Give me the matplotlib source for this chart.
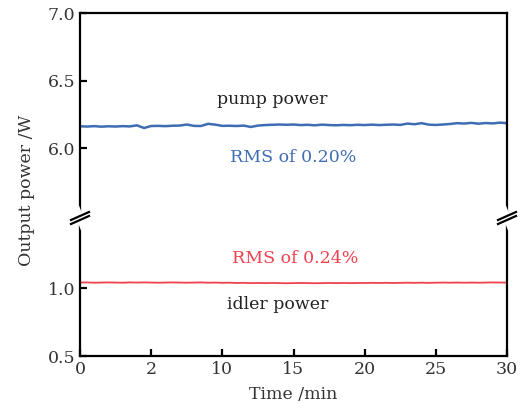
import numpy as np
import matplotlib
matplotlib.use("Agg")
import matplotlib.pyplot as plt
from matplotlib.lines import Line2D

# ─── Data ──────────────────────────────────────────────────────────────────────
# pump / idler output power (W), sampled every 0.5 min from 0 to 30 min
pump_power = [6.163, 6.161, 6.164, 6.160, 6.163, 6.161, 6.164, 6.162, 6.170, 6.150,
              6.165, 6.166, 6.164, 6.167, 6.168, 6.176, 6.166, 6.165, 6.181, 6.175,
              6.166, 6.167, 6.165, 6.168, 6.158, 6.168, 6.172, 6.174, 6.176, 6.174,
              6.176, 6.172, 6.174, 6.170, 6.175, 6.172, 6.170, 6.173, 6.171, 6.174,
              6.172, 6.175, 6.172, 6.174, 6.176, 6.173, 6.183, 6.178, 6.186, 6.175,
              6.173, 6.176, 6.180, 6.186, 6.183, 6.188, 6.182, 6.187, 6.184, 6.190,
              6.186]
idler_power = [1.040, 1.041, 1.039, 1.040, 1.041, 1.040, 1.039, 1.041, 1.040, 1.041,
               1.040, 1.039, 1.040, 1.041, 1.040, 1.039, 1.040, 1.041, 1.039, 1.040,
               1.038, 1.039, 1.037, 1.038, 1.036, 1.037, 1.036, 1.037, 1.036, 1.035,
               1.036, 1.037, 1.036, 1.035, 1.036, 1.037, 1.036, 1.037, 1.036, 1.037,
               1.037, 1.038, 1.037, 1.038, 1.037, 1.038, 1.039, 1.038, 1.039, 1.038,
               1.039, 1.040, 1.039, 1.040, 1.039, 1.040, 1.039, 1.040, 1.041, 1.040,
               1.040]
time_min = np.linspace(0, 30, len(pump_power))

x_ticks = [0, 5, 10, 15, 20, 25, 30]
x_tick_labels = ["0", "2", "10", "15", "20", "25", "30"]
top_yticks = [6.0, 6.5, 7.0]
bot_yticks = [0.5, 1.0]

BLUE = "#3f6db3"
RED = "#f0414f"

plt.rcParams["font.family"] = "DejaVu Serif"
plt.rcParams["font.size"] = 12.5

fig = plt.figure(figsize=(5.25, 4.19), dpi=100)
L, R = 80 / 525, 507 / 525
ax_top = fig.add_axes([L, 1 - 216 / 419, R - L, (216 - 13) / 419])
ax_bot = fig.add_axes([L, 1 - 356 / 419, R - L, (356 - 220) / 419])

ax_top.plot(time_min, pump_power, color=BLUE, lw=1.8)
ax_bot.plot(time_min, idler_power, color=RED, lw=1.3)

for ax in (ax_top, ax_bot):
    ax.set_xlim(0, 30)
    for s in ax.spines.values():
        s.set_linewidth(1.6)
    ax.tick_params(direction="in", length=5, width=1.6, right=False, top=False,
                   labelcolor="#333333")

ax_top.set_ylim(5.5, 7.0)
ax_top.set_yticks(top_yticks)
ax_top.set_yticklabels([f"{v:.1f}" for v in top_yticks])
ax_top.spines["bottom"].set_visible(False)
ax_top.tick_params(bottom=False, labelbottom=False)

ax_bot.set_ylim(0.5, 1.5)
ax_bot.set_yticks(bot_yticks)
ax_bot.set_yticklabels([f"{v:.1f}" for v in bot_yticks])
ax_bot.spines["top"].set_visible(False)
ax_bot.set_xticks(x_ticks)
ax_bot.set_xticklabels(x_tick_labels)
ax_bot.set_xlabel("Time /min", color="#333333", labelpad=6)

fig.text(27 / 525, 1 - 190 / 419, "Output power /W", rotation=90,
         ha="center", va="center", color="#333333")

# annotations
ax_top.text(13.5, 6.36, "pump power", ha="center", va="center", color="#222222")
ax_top.text(15.0, 5.93, "RMS of 0.20%", ha="center", va="center", color=BLUE)
ax_bot.text(15.1, 1.22, "RMS of 0.24%", ha="center", va="center", color=RED)
ax_bot.text(13.9, 0.88, "idler power", ha="center", va="center", color="#222222")

# break marks on both spines
for xf in (L, R):
    yc = 1 - 218 / 419
    dx, dy = 9 / 525, 4 / 419
    gap = 4 / 419
    fig.add_artist(Line2D([xf - 3 / 525, xf + 3 / 525], [yc + 8 / 419, yc - 8 / 419],
                          color="white", lw=5))
    for off in (-gap / 2, gap / 2):
        fig.add_artist(Line2D([xf - dx, xf + dx], [yc + off - dy, yc + off + dy],
                              color="black", lw=1.6))

fig.savefig("out.png", dpi=100)
